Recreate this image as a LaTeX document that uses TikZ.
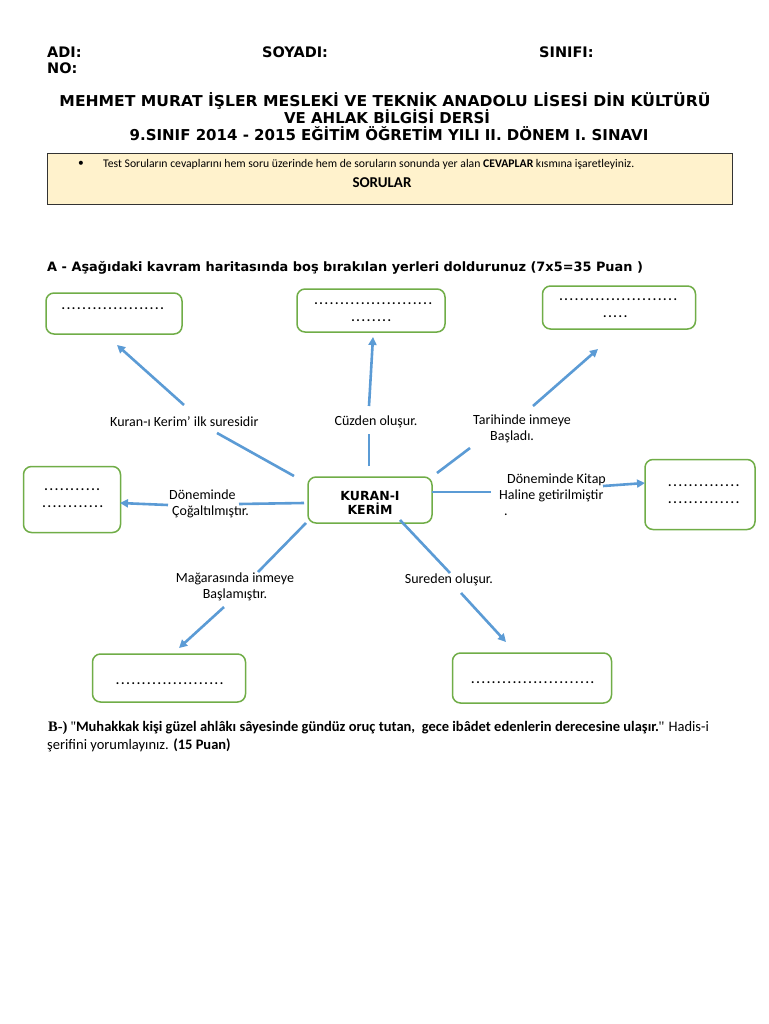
\documentclass[tikz,border=0pt]{standalone}
\usepackage{fontspec}
\setmainfont{Carlito}
\newfontfamily\verd{DejaVu Sans}
\newfontfamily\lser{Liberation Serif}
\usetikzlibrary{arrows.meta}
\definecolor{cblue}{HTML}{5B9BD5}
\definecolor{cgreen}{HTML}{70AD47}
\definecolor{cyell}{HTML}{FFF2CC}
\newcommand\dotline[1]{\hbox to #1{\cleaders\hbox to 5.2pt{\hss.\hss}\hfill}}
\tikzset{
  gbox/.style={draw=cgreen, line width=1.5pt, rounded corners=8pt, fill=white, inner sep=0pt},
  conn/.style={draw=cblue, line width=2.6pt},
  arr/.style={conn, -{Triangle[length=8pt,width=8pt]}},
  lbl/.style={inner sep=0pt, font=\fontsize{14}{16}\selectfont},
  dots/.style={inner sep=0pt, font=\bfseries\fontsize{13}{16}\selectfont},
  hdr/.style={inner sep=0pt, font=\verd\bfseries\fontsize{14.5}{16.5}\selectfont},
  ttl/.style={inner sep=0pt, font=\verd\bfseries\fontsize{15}{16.5}\selectfont}
}
\begin{document}
\begin{tikzpicture}[x=1pt,y=-1pt]
\useasboundingbox[fill=white] (0,0) rectangle (768,1024);

% header
\node[hdr, anchor=west] (adi) at (47,52) {ADI:};
\node[hdr, anchor=west] (soy) at (262,52) {SOYADI:};
\node[hdr, anchor=west] (sin) at (539,52) {SINIFI:};
\node[hdr, anchor=west] (no) at (47,68) {NO:};
\node[ttl] (t1) at (385,101) {\scalebox{1.04}[1]{MEHMET MURAT İŞLER MESLEKİ VE TEKNİK ANADOLU LİSESİ DİN KÜLTÜRÜ}};
\node[ttl] (t2) at (387,117) {VE AHLAK BİLGİSİ DERSİ};
\node[ttl] (t3) at (389,134) {9.SINIF 2014 - 2015 EĞİTİM ÖĞRETİM YILI II. DÖNEM I. SINAVI};

% yellow instruction box
\node[draw=black!80, line width=1pt, fill=cyell, minimum width=685pt, minimum height=51pt, inner sep=0pt] (ybox) at (389.5,179) {};
\node[inner sep=0pt, font=\fontsize{11.5}{13}\selectfont] (bul) at (81,164) {•};
\node[inner sep=0pt, anchor=west, font=\fontsize{11.7}{13}\selectfont] (ytxt) at (103,164) {Test Soruların cevaplarını hem soru üzerinde hem de soruların sonunda yer alan \textbf{CEVAPLAR} kısmına işaretleyiniz.};
\node[inner sep=0pt, font=\bfseries\fontsize{15}{17}\selectfont] (sor) at (382,183) {SORULAR};

% section A title
\node[inner sep=0pt, anchor=west, font=\verd\bfseries\fontsize{12.9}{15}\selectfont] (atit) at (47,268) {A - Aşağıdaki kavram haritasında boş bırakılan yerleri doldurunuz (7x5=35 Puan )};

% boxes
\node[gbox, minimum width=136pt, minimum height=41pt] (b1) at (114,313.5) {};
\node[gbox, minimum width=148pt, minimum height=43pt] (b2) at (371,310.5) {};
\node[gbox, minimum width=153pt, minimum height=43pt] (b3) at (619,307.5) {};
\node[gbox, minimum width=97pt, minimum height=66pt] (b4) at (72,499.5) {};
\node[gbox, minimum width=124pt, minimum height=46pt] (c) at (370,500) {};
\node[gbox, minimum width=110pt, minimum height=70pt] (b5) at (700,494.5) {};
\node[gbox, minimum width=153pt, minimum height=48pt] (b6) at (169,678) {};
\node[gbox, minimum width=159pt, minimum height=50pt] (b7) at (532,678) {};

% box texts
\node[dots, anchor=west] (d1) at (60,309) {\dotline{105pt}};
\node[dots, anchor=west] (d2a) at (311,304) {\dotline{124pt}};
\node[dots, anchor=west] (d2b) at (348,321) {\dotline{46pt}};
\node[dots, anchor=west] (d3a) at (556,300) {\dotline{124pt}};
\node[dots, anchor=west] (d3b) at (600,317) {\dotline{30pt}};
\node[dots, anchor=west] (d4a) at (41,490) {\dotline{62pt}};
\node[dots, anchor=west] (d4b) at (39,507) {\dotline{67pt}};
\node[dots, anchor=west] (d5a) at (666,486) {\dotline{75pt}};
\node[dots, anchor=west] (d5b) at (666,503) {\dotline{75pt}};
\node[dots, anchor=west] (d6) at (113,684) {\dotline{113pt}};
\node[dots, anchor=west] (d7) at (470,683) {\dotline{125pt}};
\node[inner sep=0pt, align=center, font=\verd\bfseries\fontsize{12.5}{13.5}\selectfont] (ct) at (370,503) {KURAN-I\\KERİM};

% labels
\node[lbl, anchor=west] (l1) at (110,422) {Kuran-ı Kerim' ilk suresidir};
\node[lbl] (l2) at (376,422) {Cüzden oluşur.};
\node[lbl, anchor=north west, align=left] (l3) at (473,415) {Tarihinde inmeye\\\hspace*{17pt}Başladı.};
\node[lbl, anchor=north west, align=left] (l4) at (169,490) {Döneminde\\\hspace*{3pt}Çoğaltılmıştır.};
\node[lbl, anchor=north west, align=left] (l5) at (499,474) {\hspace*{8pt}Döneminde Kitap\\Haline getirilmiştir\\\hspace*{5pt}.};
\node[lbl, anchor=north, align=center] (l6) at (235,573) {Mağarasında inmeye\\Başlamıştır.};
\node[lbl] (l7) at (449,580) {Sureden oluşur.};

% connectors
\coordinate (a1a) at (184,405); \coordinate (a1b) at (117,345);
\coordinate (a1c) at (294,476); \coordinate (a1d) at (217,433);
\draw[arr] (a1a) -- (a1b);
\draw[conn] (a1c) -- (a1d);

\coordinate (a2a) at (369,406); \coordinate (a2b) at (373,337);
\coordinate (a2c) at (369,466); \coordinate (a2d) at (369,434);
\draw[arr] (a2a) -- (a2b);
\draw[conn] (a2c) -- (a2d);

\coordinate (a3a) at (533,406); \coordinate (a3b) at (598,349);
\coordinate (a3c) at (437,473); \coordinate (a3d) at (470,448);
\draw[arr] (a3a) -- (a3b);
\draw[conn] (a3c) -- (a3d);

\coordinate (a4a) at (168,505); \coordinate (a4b) at (120,503);
\coordinate (a4c) at (304,503); \coordinate (a4d) at (239,504);
\draw[arr] (a4a) -- (a4b);
\draw[conn] (a4c) -- (a4d);

\coordinate (a5a) at (603,486); \coordinate (a5b) at (645,483);
\coordinate (a5c) at (432,492); \coordinate (a5d) at (491,492);
\draw[arr] (a5a) -- (a5b);
\draw[conn] (a5c) -- (a5d);

\coordinate (a6a) at (224,607); \coordinate (a6b) at (179,648);
\coordinate (a6c) at (306,523); \coordinate (a6d) at (258,572);
\draw[arr] (a6a) -- (a6b);
\draw[conn] (a6c) -- (a6d);

\coordinate (a7a) at (461,593); \coordinate (a7b) at (506,642);
\coordinate (a7c) at (400,520); \coordinate (a7d) at (450,573);
\draw[arr] (a7a) -- (a7b);
\draw[conn] (a7c) -- (a7d);

% section B
\node[inner sep=0pt, anchor=west, font=\fontsize{14.5}{17}\selectfont] (bq1) at (48,728) {{\lser\bfseries B-)} {\lser ''}\textbf{Muhakkak kişi güzel ahlâkı sâyesinde gündüz oruç tutan,\ \ gece ibâdet edenlerin derecesine ulaşır.}{\lser ''} Hadis-i};
\node[inner sep=0pt, anchor=west, font=\fontsize{14.5}{17}\selectfont] (bq2) at (47,745) {şerifini yorumlayınız. \textbf{(15 Puan)}};
\end{tikzpicture}
\end{document}
